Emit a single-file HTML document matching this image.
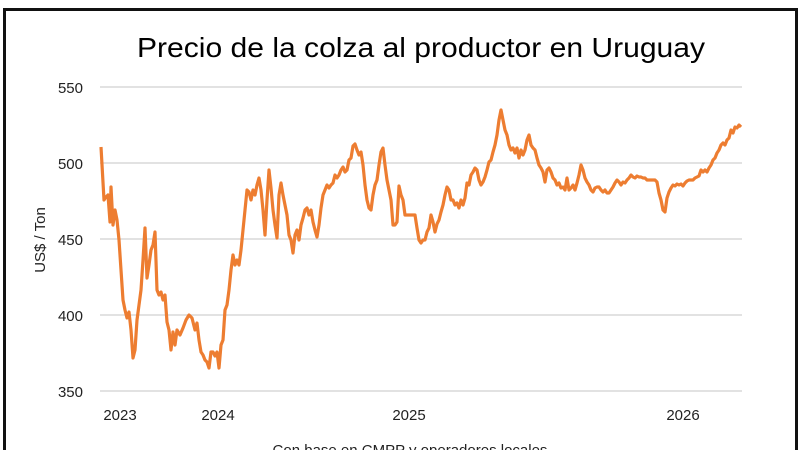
<!DOCTYPE html>
<html><head><meta charset="utf-8"><style>
html,body{margin:0;padding:0;background:#fff;width:800px;height:450px;overflow:hidden}
</style></head><body>
<svg width="800" height="450" xmlns="http://www.w3.org/2000/svg" font-family="Liberation Sans, sans-serif">
<rect x="0" y="0" width="800" height="450" fill="#fff"/>
<rect x="4.5" y="9.5" width="792" height="450" fill="none" stroke="#111" stroke-width="3"/>
<text x="421" y="57" font-size="28" text-anchor="middle" fill="#000" textLength="568" lengthAdjust="spacingAndGlyphs">Precio de la colza al productor en Uruguay</text>
<g stroke="#d0d0d0" stroke-width="1.3">
<line x1="100" y1="87" x2="742" y2="87"/><line x1="100" y1="163" x2="742" y2="163"/>
<line x1="100" y1="239" x2="742" y2="239"/><line x1="100" y1="315" x2="742" y2="315"/>
<line x1="100" y1="391" x2="742" y2="391"/>
</g>
<g font-size="15" fill="#222" text-anchor="end">
<text x="83" y="93">550</text><text x="83" y="169">500</text><text x="83" y="245">450</text>
<text x="83" y="321">400</text><text x="83" y="397">350</text>
</g>
<g font-size="15" fill="#222" text-anchor="middle">
<text x="120" y="420">2023</text><text x="218" y="420">2024</text><text x="409" y="420">2025</text><text x="683" y="420">2026</text>
</g>
<text transform="translate(45,240) rotate(-90)" font-size="15" fill="#222" text-anchor="middle">US$ / Ton</text>
<text x="410" y="455" font-size="15" fill="#222" text-anchor="middle">Con base en CMPP y operadores locales</text>
<polyline fill="none" stroke="#ed7d31" stroke-width="3.2" stroke-linejoin="round" points="101,147 104,200 106,197 108,195 110,222 111,187 113,225 115,210 117,220 119,240 121,270 123,300 125,310 127,318 129,312 131,330 133,358 135,350 137,320 139,305 141,290 143,260 145,228 147,278 149,265 151,250 153,245 155,232 157,290 159,295 161,292 163,300 165,295 167,322 169,330 171,350 173,332 175,345 177,330 180,335 183,328 186,320 189,315 192,318 195,330 197,323 199,340 201,352 203,355 205,360 207,362 209,368 211,352 213,352 215,356 217,352 219,368 221,345 223,340 225,310 227,305 229,290 231,270 233,255 235,265 237,260 239,265 241,250 243,230 245,210 247,190 249,192 251,200 253,190 255,195 257,185 259,178 261,190 263,210 265,235 267,200 269,170 271,188 273,210 275,225 277,238 279,195 281,183 283,195 285,205 287,215 289,235 291,240 293,253 295,235 297,230 299,240 301,225 303,218 305,210 307,208 309,215 311,210 313,222 315,230 317,237 319,225 321,208 323,195 325,190 327,185 329,188 331,185 333,183 335,175 337,178 339,175 341,170 343,167 345,172 347,170 349,160 351,158 353,146 355,144 357,150 359,155 361,152 363,165 365,185 367,200 369,208 371,210 373,195 375,185 377,180 379,165 381,152 383,148 385,165 387,180 389,190 391,200 393,225 395,225 397,222 399,186 401,195 403,200 405,215 407,215 409,215 411,215 413,215 415,215 417,228 419,240 421,243 423,240 425,240 427,232 429,228 431,215 433,222 435,232 437,224 439,220 441,212 443,205 445,195 447,187 449,190 451,200 453,200 455,205 457,203 459,208 461,200 463,205 465,198 467,183 469,185 471,175 473,172 475,168 477,170 479,180 481,185 483,182 485,177 487,170 489,162 491,160 493,152 495,145 497,135 499,120 501,110 503,120 505,130 507,135 509,145 511,150 513,148 515,153 517,148 519,158 521,150 523,155 525,150 527,140 529,135 531,145 533,148 535,150 537,158 539,165 541,168 543,172 545,182 547,170 549,168 551,172 553,178 555,180 557,185 559,183 561,188 563,187 565,190 567,178 569,190 571,188 573,185 575,190 577,183 579,175 581,165 583,170 585,178 587,182 589,185 591,190 593,192 595,188 597,187 599,187 601,190 603,192 605,190 607,193 609,193 611,190 613,187 615,183 617,180 619,182 621,185 623,182 625,183 627,180 629,178 631,175 633,177 635,178 637,176 639,177 641,177 643,178 645,178 647,180 649,180 651,180 653,180 655,180 657,182 659,193 661,200 663,210 665,212 667,198 669,192 671,188 673,185 675,186 677,184 679,185 681,184 683,186 685,183 687,181 689,180 691,180 693,180 695,178 697,177 699,176 701,170 703,172 705,170 707,172 709,168 711,165 713,160 715,158 717,153 719,150 721,145 723,143 725,145 727,140 729,138 731,130 733,133 735,127 737,128 739,125 741,127"/>
</svg>
</body></html>
